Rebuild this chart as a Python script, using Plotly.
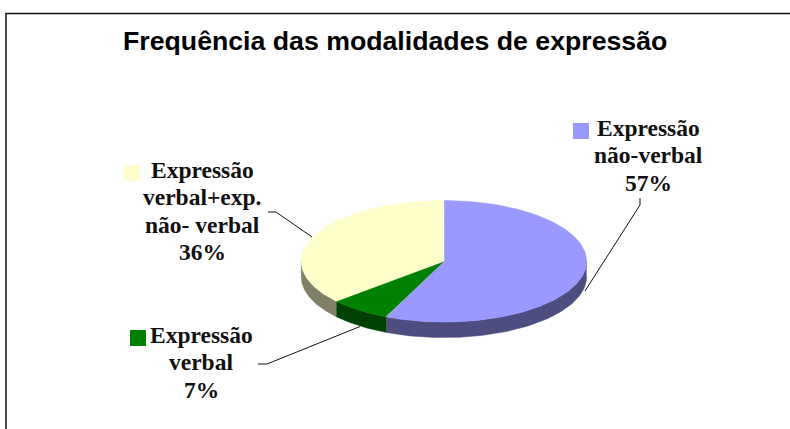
import numpy as np
import plotly.graph_objects as go

# Data
title_text = "Frequência das modalidades de expressão"
categories = ["Expressão não-verbal", "Expressão verbal", "Expressão verbal+exp. não- verbal"]
values = [56.6, 7.0, 36.4]
label_lines = [
    ["Expressão", "não-verbal", "57%"],
    ["Expressão", "verbal", "7%"],
    ["Expressão", "verbal+exp.", "não- verbal", "36%"],
]
top_colors = ["#9999FF", "#008000", "#FFFFCC"]
side_colors = ["#4D4D80", "#004000", "#808066"]

W, H = 790, 429
CX, CY, RX, RY, DEPTH = 443.9, 261.3, 142.7, 60.8, 15.5

fig = go.Figure()


def ell(theta_deg):
    t = np.radians(theta_deg)
    return CX + RX * np.sin(t), CY - RY * np.cos(t)


def poly(x, y, color):
    fig.add_trace(go.Scatter(x=x, y=y, mode="lines", fill="toself", fillcolor=color,
                             line=dict(color=color, width=0.5), hoverinfo="skip", showlegend=False))


edges = np.concatenate([[0], np.cumsum(values)]) * 3.6
# Side walls (only the front half of the rim is visible)
for i, c in enumerate(side_colors):
    a, b = max(edges[i], 90), min(edges[i + 1], 270)
    if b > a:
        x, y = ell(np.linspace(a, b, 80))
        poly(np.r_[x, x[::-1]], np.r_[y, y[::-1] + DEPTH], c)
# Top faces
for i, c in enumerate(top_colors):
    x, y = ell(np.linspace(edges[i], edges[i + 1], 160))
    poly(np.r_[CX, x, CX], np.r_[CY, y, CY], c)

# Leader lines
leaders = [
    ([640, 640, 585], [198, 205, 291]),
    ([258, 267, 360], [364, 364, 326.5]),
    ([268, 276, 312], [212, 212, 237]),
]
for lx, ly in leaders:
    fig.add_trace(go.Scatter(x=lx, y=ly, mode="lines", line=dict(color="#111111", width=1),
                             hoverinfo="skip", showlegend=False))

# Legend keys
keys = [(581, 131), (138, 338), (132, 173)]
for (kx, ky), c in zip(keys, top_colors):
    fig.add_trace(go.Scatter(x=[kx], y=[ky], mode="markers",
                             marker=dict(symbol="square", size=16, color=c, line=dict(width=0)),
                             hoverinfo="skip", showlegend=False))

# Frame
fig.add_trace(go.Scatter(x=[6, 6, W], y=[H, 13.5, 13.5], mode="lines",
                         line=dict(color="#111111", width=1.5), hoverinfo="skip", showlegend=False))

# Text
label_x = [648, 201, 202]
label_y = [[128, 155, 183], [335, 362, 390], [170, 197, 225, 252]]
annotations = []
for lines, x0, ys in zip(label_lines, label_x, label_y):
    for line, yy in zip(lines, ys):
        annotations.append(dict(x=x0, y=yy, xref="x", yref="y", text=f"<b>{line}</b>", showarrow=False,
                                xanchor="center", yanchor="middle",
                                font=dict(family="Liberation Serif", size=23.5, color="#111111")))
annotations.append(dict(x=395, y=41, xref="x", yref="y", text=f"<b>{title_text}</b>", showarrow=False,
                        xanchor="center", yanchor="middle",
                        font=dict(family="Liberation Sans", size=26.7, color="#000000")))

fig.update_layout(
    width=W, height=H, margin=dict(l=0, r=0, t=0, b=0),
    paper_bgcolor="white", plot_bgcolor="white", showlegend=False,
    xaxis=dict(range=[0, W], visible=False, fixedrange=True),
    yaxis=dict(range=[H, 0], visible=False, fixedrange=True),
    annotations=annotations,
)
fig.write_html("out.html", config={"displayModeBar": False},
               post_script="document.body.style.margin='0';document.body.style.overflow='hidden';")
